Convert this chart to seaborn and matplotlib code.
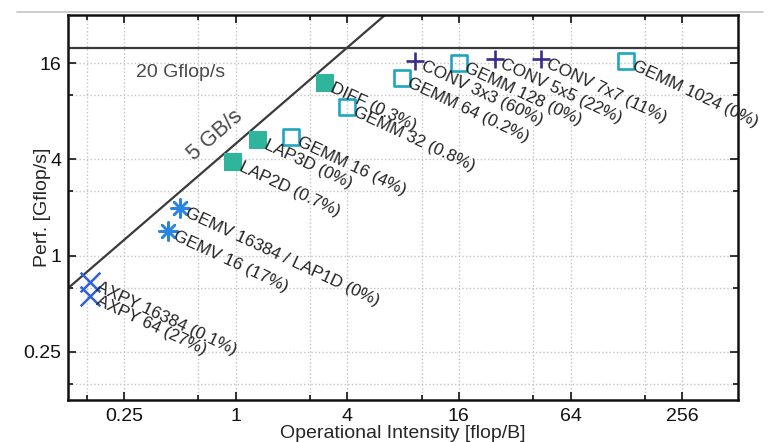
import numpy as np
import matplotlib
matplotlib.use("Agg")
import matplotlib.pyplot as plt
import seaborn as sns
from matplotlib.lines import Line2D

# ─── Roofline parameters ─────────────────────────────────────────────────────
PEAK_GFLOPS = 20      # Gflop/s
BANDWIDTH_GBS = 5     # GB/s

# ─── Measured kernels (operational intensity [flop/B], perf [Gflop/s]) ──────
axpy_labels = ["AXPY 16384 (0.1%)", "AXPY 64 (27%)"]
axpy_oi = [0.165, 0.165]
axpy_perf = [0.68, 0.56]

gemv_labels = ["GEMV 16384 / LAP1D (0%)", "GEMV 16 (17%)"]
gemv_oi = [0.5, 0.43]
gemv_perf = [1.99, 1.43]

stencil_labels = ["LAP2D (0.7%)", "LAP3D (0%)", "DIFF (0.3%)"]
stencil_oi = [0.975, 1.33, 3.03]
stencil_perf = [3.85, 5.28, 12.0]

gemm_labels = ["GEMM 16 (4%)", "GEMM 32 (0.8%)", "GEMM 64 (0.2%)",
               "GEMM 128 (0%)", "GEMM 1024 (0%)"]
gemm_oi = [2.0, 4.0, 7.9, 16.0, 128.0]
gemm_perf = [5.5, 8.5, 12.9, 16.0, 16.5]

conv_labels = ["CONV 3x3 (60%)", "CONV 5x5 (22%)", "CONV 7x7 (11%)"]
conv_oi = [9.3, 25.0, 44.3]
conv_perf = [16.5, 16.9, 16.9]

x_ticks = [0.25, 1, 4, 16, 64, 256]
y_ticks = [0.25, 1, 4, 16]
x_lim = (0.125, 512)
y_lim = (0.125, 32)

# ─── Style ───────────────────────────────────────────────────────────────────
sns.set_theme(style="ticks")
plt.rcParams["font.family"] = ["Liberation Sans", "DejaVu Sans"]

fig = plt.figure(figsize=(7.71, 4.42), dpi=100)
ax = fig.add_axes([68 / 771, 1 - 400 / 442, 670 / 771, 385 / 442])
ax.set_xscale("log", base=2)
ax.set_yscale("log", base=2)
ax.set_xlim(*x_lim)
ax.set_ylim(*y_lim)

# roofline
xs = np.geomspace(x_lim[0], x_lim[1], 200)
ax.plot(xs, BANDWIDTH_GBS * xs, color="#3a3a3a", lw=1.6, zorder=2)
ax.axhline(PEAK_GFLOPS, color="#3a3a3a", lw=1.6, zorder=2)
ax.text(0.29, 14, f"{PEAK_GFLOPS} Gflop/s", fontsize=14, color="#4a4a4a",
        ha="left", va="center")
ax.text(0.6, 3.9, f"{BANDWIDTH_GBS} GB/s", fontsize=15.5, color="#4a4a4a",
        rotation=41, rotation_mode="anchor", ha="left", va="baseline")

# kernels
sns.scatterplot(x=axpy_oi, y=axpy_perf, marker="x", s=200, color="#2f62d8",
                linewidth=1.8, ax=ax, zorder=4)
sns.scatterplot(x=gemv_oi, y=gemv_perf, marker=(8, 2, 0), s=170, color="#2a84e2",
                linewidth=1.8, ax=ax, zorder=4)
sns.scatterplot(x=stencil_oi, y=stencil_perf, marker="s", s=180, color="#2fb59b",
                linewidth=0, ax=ax, zorder=4)
sns.scatterplot(x=gemm_oi, y=gemm_perf, marker="s", s=135, facecolor="none",
                edgecolor="#1fa5bf", linewidth=1.9, ax=ax, zorder=4)
sns.scatterplot(x=conv_oi, y=conv_perf, marker="+", s=160, color="#3b2b8e",
                linewidth=1.9, ax=ax, zorder=4)


def label_points(xs, ys, labels):
    for x, y, t in zip(xs, ys, labels):
        ax.annotate(t, (x, y), xytext=(7, 2), textcoords="offset points",
                    rotation=-25, rotation_mode="anchor", ha="left", va="top",
                    fontsize=12.3, color="#222222", zorder=5)


label_points(axpy_oi, axpy_perf, axpy_labels)
label_points(gemv_oi, gemv_perf, gemv_labels)
label_points(stencil_oi, stencil_perf, stencil_labels)
label_points(gemm_oi, gemm_perf, gemm_labels)
label_points(conv_oi, conv_perf, conv_labels)

# ticks / grid
ax.set_xticks(x_ticks)
ax.set_xticklabels([f"{t:g}" for t in x_ticks])
ax.set_xticks([t * 4 ** (-1 / 3) for t in x_ticks], minor=True)
ax.set_yticks(y_ticks)
ax.set_yticklabels([f"{t:g}" for t in y_ticks])
ax.set_yticks([t * 4 ** (-1 / 3) for t in y_ticks + [64]
               if y_lim[0] < t * 4 ** (-1 / 3) < y_lim[1]], minor=True)
ax.xaxis.set_minor_formatter(plt.NullFormatter())
ax.yaxis.set_minor_formatter(plt.NullFormatter())
ax.tick_params(which="both", direction="in", top=True, right=True,
               labelsize=14, colors="#111111")
ax.tick_params(axis="x", which="both", pad=6)
ax.tick_params(axis="y", which="both", pad=5)
ax.tick_params(which="major", length=6, width=1.2)
ax.tick_params(which="minor", length=3.5, width=1.2)
ax.grid(True, which="both", linestyle=":", color="#c4c4c4", linewidth=1.0)
for sp in ax.spines.values():
    sp.set_linewidth(1.8)
    sp.set_color("#111111")

ax.set_xlabel("Operational Intensity [flop/B]", fontsize=14, labelpad=0)
ax.set_ylabel("Perf. [Gflop/s]", fontsize=14)
ax.yaxis.set_label_coords(-0.026, 0.5)

# light rule at the top of the figure
fig.add_artist(Line2D([17 / 771, 763 / 771], [1 - 12 / 442] * 2,
                      color="#c4c4c4", lw=1.2))

fig.savefig("out.png", dpi=100)
